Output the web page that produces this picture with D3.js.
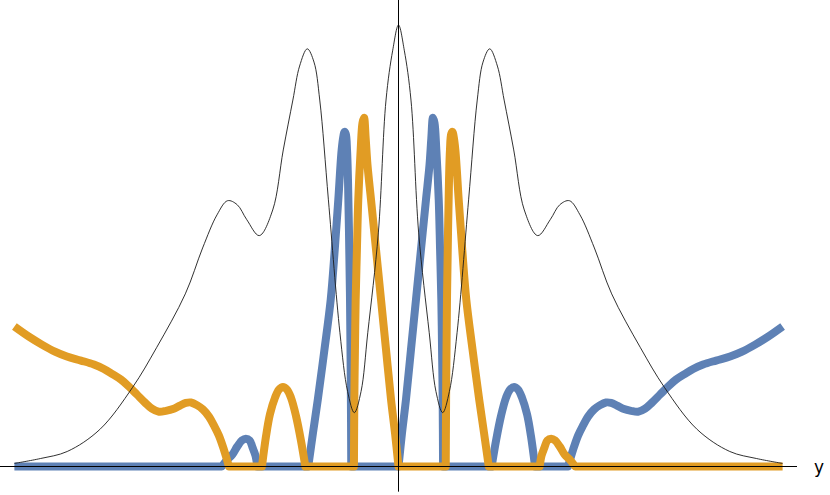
<!DOCTYPE html>
<html>
<head>
<meta charset="utf-8">
<script src="https://cdn.jsdelivr.net/npm/d3@7"></script>
<style>
  html, body { margin: 0; padding: 0; background: #fff; }
  svg { display: block; }
</style>
</head>
<body>
<div id="chart"></div>
<script>
var svgWidth = 830;
var svgHeight = 495;

// thin black curve
var densityPoints = [
  [-4.0, 0.007], [-3.73, 0.018], [-3.45, 0.034], [-3.11, 0.084], [-2.77, 0.179],
  [-2.52, 0.269], [-2.22, 0.391], [-2.04, 0.495], [-1.89, 0.570], [-1.78, 0.602],
  [-1.68, 0.593], [-1.58, 0.559], [-1.45, 0.523], [-1.31, 0.581], [-1.20, 0.717],
  [-1.10, 0.830], [-1.03, 0.907], [-0.95, 0.946], [-0.88, 0.916], [-0.82, 0.830],
  [-0.73, 0.604], [-0.61, 0.303], [-0.53, 0.170], [-0.46, 0.122], [-0.39, 0.170],
  [-0.32, 0.303], [-0.21, 0.529], [-0.13, 0.830], [-0.06, 0.943], [0, 1.0],
  [0.06, 0.943], [0.13, 0.830], [0.21, 0.529], [0.32, 0.303], [0.39, 0.170],
  [0.46, 0.122], [0.53, 0.170], [0.61, 0.303], [0.73, 0.604], [0.82, 0.830],
  [0.88, 0.916], [0.95, 0.946], [1.03, 0.907], [1.10, 0.830], [1.20, 0.717],
  [1.31, 0.581], [1.45, 0.523], [1.58, 0.559], [1.68, 0.593], [1.78, 0.602],
  [1.89, 0.570], [2.04, 0.495], [2.22, 0.391], [2.52, 0.269], [2.77, 0.179],
  [3.11, 0.084], [3.45, 0.034], [3.73, 0.018], [4.0, 0.007]
];

// blue thick curve (zero where clipped)
var bluePoints = [
  [-4.0, 0], [-1.84, 0],
  [-1.79, 0.014], [-1.73, 0.027], [-1.68, 0.045], [-1.63, 0.059], [-1.59, 0.063],
  [-1.55, 0.059], [-1.52, 0.043], [-1.49, 0.025], [-1.47, 0],
  [-0.94, 0], [-0.89, 0.077], [-0.84, 0.152], [-0.771, 0.265], [-0.706, 0.378],
  [-0.664, 0.491], [-0.627, 0.604], [-0.592, 0.717], [-0.573, 0.749], [-0.563, 0.758],
  [-0.549, 0.753], [-0.536, 0.717], [-0.526, 0.649], [-0.516, 0.536], [-0.505, 0.378],
  [-0.497, 0.197], [-0.492, 0],
  [0, 0], [0.036, 0.075], [0.078, 0.152], [0.130, 0.265], [0.182, 0.378],
  [0.234, 0.491], [0.286, 0.604], [0.323, 0.683], [0.342, 0.744], [0.359, 0.790],
  [0.375, 0.778], [0.394, 0.717], [0.419, 0.604], [0.433, 0.491], [0.446, 0.378],
  [0.455, 0.242], [0.460, 0.152], [0.464, 0],
  [0.97, 0], [1.016, 0.059], [1.068, 0.115], [1.120, 0.156], [1.161, 0.174],
  [1.203, 0.180], [1.245, 0.174], [1.286, 0.156], [1.339, 0.118], [1.380, 0.068],
  [1.422, 0],
  [1.766, 0], [1.818, 0.038], [1.870, 0.070], [1.922, 0.093], [1.974, 0.113],
  [2.036, 0.129], [2.099, 0.139], [2.161, 0.145], [2.214, 0.144], [2.276, 0.138],
  [2.349, 0.130], [2.422, 0.126], [2.495, 0.124], [2.568, 0.131], [2.641, 0.145],
  [2.724, 0.163], [2.807, 0.181], [2.891, 0.197], [2.984, 0.210], [3.068, 0.221],
  [3.172, 0.231], [3.307, 0.240], [3.453, 0.249], [3.578, 0.260], [3.714, 0.276],
  [3.849, 0.294], [4.0, 0.317]
];

// orange thick curve
var orangePoints = [
  [-4.0, 0.317], [-3.849, 0.294], [-3.714, 0.276], [-3.578, 0.260], [-3.453, 0.249],
  [-3.307, 0.240], [-3.172, 0.231], [-3.068, 0.221], [-2.984, 0.210], [-2.891, 0.197],
  [-2.807, 0.181], [-2.724, 0.163], [-2.641, 0.145], [-2.568, 0.131], [-2.495, 0.124],
  [-2.422, 0.126], [-2.349, 0.130], [-2.276, 0.138], [-2.214, 0.144], [-2.161, 0.145],
  [-2.099, 0.139], [-2.036, 0.129], [-1.974, 0.113], [-1.922, 0.093], [-1.870, 0.070],
  [-1.818, 0.038], [-1.766, 0],
  [-1.422, 0], [-1.380, 0.068], [-1.339, 0.118], [-1.286, 0.156], [-1.245, 0.174],
  [-1.203, 0.180], [-1.161, 0.174], [-1.120, 0.156], [-1.068, 0.115], [-1.016, 0.059],
  [-0.97, 0],
  [-0.464, 0], [-0.460, 0.152], [-0.455, 0.242], [-0.446, 0.378], [-0.433, 0.491],
  [-0.419, 0.604], [-0.394, 0.717], [-0.375, 0.778], [-0.359, 0.790], [-0.342, 0.744],
  [-0.323, 0.683], [-0.286, 0.604], [-0.234, 0.491], [-0.182, 0.378], [-0.130, 0.265],
  [-0.078, 0.152], [-0.036, 0.075], [0, 0],
  [0.492, 0], [0.497, 0.197], [0.505, 0.378], [0.516, 0.536], [0.526, 0.649],
  [0.536, 0.717], [0.549, 0.753], [0.563, 0.758], [0.573, 0.749], [0.592, 0.717],
  [0.627, 0.604], [0.664, 0.491], [0.706, 0.378], [0.771, 0.265], [0.84, 0.152],
  [0.89, 0.077], [0.94, 0],
  [1.47, 0], [1.49, 0.025], [1.52, 0.043], [1.55, 0.059], [1.59, 0.063],
  [1.63, 0.059], [1.68, 0.045], [1.73, 0.027], [1.79, 0.014], [1.84, 0], [4.0, 0]
];

var xRange = [-4.15, 4.15];
var yRange = [-0.057, 1.057];
var axisLabel = "y";

var svg = d3.select("#chart")
  .append("svg")
  .attr("width", svgWidth)
  .attr("height", svgHeight);

var xScale = d3.scaleLinear()
  .domain(xRange)
  .range([0, 797]);

var yScale = d3.scaleLinear()
  .domain([0, 1])
  .range([466.5, 25]);

var smooth = d3.curveCatmullRom.alpha(0.5);

// split a series at its zero points so the kinks stay sharp
function splitAtZeros(points) {
  var segs = [];
  var cur = [points[0]];
  for (var i = 1; i < points.length; i++) {
    cur.push(points[i]);
    if (points[i][1] === 0) {
      segs.push(cur);
      cur = [points[i]];
    }
  }
  if (cur.length > 1) segs.push(cur);
  return segs;
}

// draw all segments into one path, no moveTo between them (joins stay joined)
function joinedPath(points) {
  var p = d3.path();
  var started = false;
  var ctx = {
    moveTo: function(x, y) { if (!started) { p.moveTo(x, y); started = true; } },
    lineTo: function(x, y) { p.lineTo(x, y); },
    bezierCurveTo: function(a, b, c, d, e, f) { p.bezierCurveTo(a, b, c, d, e, f); },
    closePath: function() {}
  };
  var line = d3.line()
    .x(d => xScale(d[0]))
    .y(d => yScale(Math.max(0, d[1])))
    .curve(smooth)
    .context(ctx);
  splitAtZeros(points).forEach(function(seg) { line(seg); });
  return p.toString();
}

svg.append("path")
  .attr("d", joinedPath(bluePoints))
  .attr("fill", "none")
  .attr("stroke", "#5E81B5")
  .attr("stroke-width", 8)
  .attr("stroke-linejoin", "round");

svg.append("path")
  .attr("d", joinedPath(orangePoints))
  .attr("fill", "none")
  .attr("stroke", "#E19C24")
  .attr("stroke-width", 8)
  .attr("stroke-linejoin", "round");

var thinLine = d3.line()
  .x(d => xScale(d[0]))
  .y(d => yScale(d[1]))
  .curve(smooth);

svg.append("path")
  .datum(densityPoints)
  .attr("d", thinLine)
  .attr("fill", "none")
  .attr("stroke", "#1a1a1a")
  .attr("stroke-width", 0.9);

// axes, no ticks
svg.append("line")
  .attr("x1", xScale(xRange[0]))
  .attr("x2", xScale(xRange[1]))
  .attr("y1", yScale(0))
  .attr("y2", yScale(0))
  .attr("stroke", "black")
  .attr("stroke-width", 1);

svg.append("line")
  .attr("x1", xScale(0))
  .attr("x2", xScale(0))
  .attr("y1", yScale(yRange[0]))
  .attr("y2", yScale(yRange[1]))
  .attr("stroke", "black")
  .attr("stroke-width", 1);

svg.append("text")
  .attr("x", xScale(xRange[1]) + 17)
  .attr("y", yScale(0) + 6)
  .attr("font-family", "DejaVu Sans, sans-serif")
  .attr("font-size", 17)
  .attr("fill", "black")
  .text(axisLabel);
</script>
</body>
</html>
